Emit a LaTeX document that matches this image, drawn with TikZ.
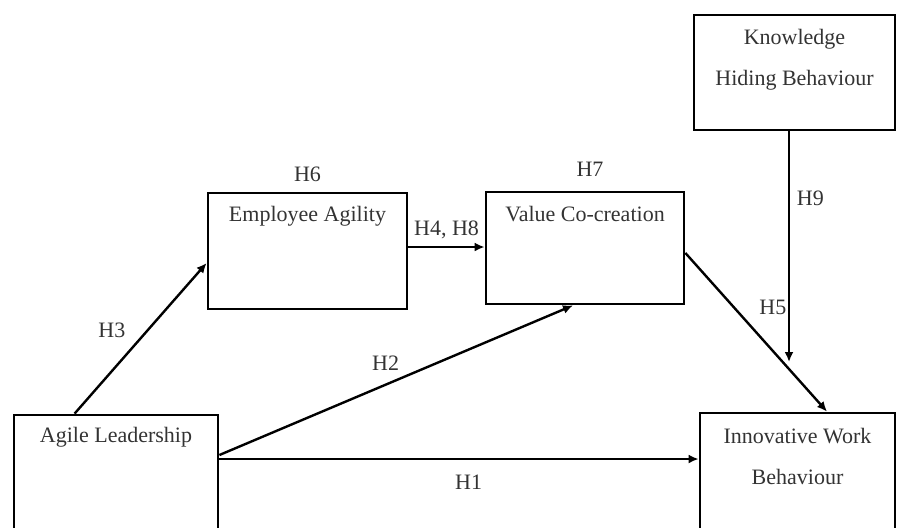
\documentclass[tikz,border=0pt]{standalone}
\usepackage{fontspec}
\setmainfont{Liberation Serif}
\usetikzlibrary{arrows.meta}

\tikzset{
	box/.style={draw, line width=1.4pt, inner sep=0pt},
	txt/.style={text=black!80, font=\fontsize{11}{20.5}\selectfont, align=center},
	lbl/.style={text=black!80, font=\fontsize{11}{13}\selectfont},
	arr/.style={-{Latex[length=5pt,width=4.5pt]}, line width=1.2pt}
}

\begin{document}
\begin{tikzpicture}[x=0.5pt,y=-0.5pt]
		\path[use as bounding box, clip] (0,0) rectangle (897,527);
		% constructs
		\node[box, minimum width=102pt, minimum height=65pt,
			label={[txt, anchor=center, yshift=-12pt]north:Agile Leadership}] (al) at (116,480) {};
		\node[box, minimum width=99.5pt, minimum height=58pt,
			label={[txt, anchor=center, yshift=-12.5pt]north:Employee Agility},
			label={[lbl, label distance=1.5pt]above:H6}] (ea) at (307.5,251) {};
		\node[box, minimum width=99pt, minimum height=56pt,
			label={[txt, anchor=center, yshift=-11.5pt]north:Value Co-creation},
			label={[lbl, label distance=3.5pt, xshift=2.5pt]above:H7}] (vcc) at (585,248) {};
		\node[box, minimum width=97.5pt, minimum height=63.5pt,
			label={[txt, anchor=center, yshift=-22.25pt]north:Innovative Work\\Behaviour}] (iwb) at (797.5,476.5) {};
		\node[box, minimum width=100.5pt, minimum height=57.5pt,
			label={[txt, anchor=center, yshift=-23pt]north:Knowledge\\Hiding Behaviour}] (khb) at (794.5,72.5) {};
		\coordinate (meet) at (789,362);
		% hypotheses
		\draw[arr] ([xshift=31pt]al.north west) -- ([yshift=-6pt]ea.west) node[lbl, pos=0.55, left=7pt] {H3};
		\draw[arr] ([yshift=2pt]ea.east) -- ([yshift=2pt]ea.east -| vcc.west) node[lbl, midway, above=0pt] {H4, H8};
		\draw[arr] ([yshift=12.5pt]al.east) -- ([xshift=-6pt]vcc.south) node[lbl, pos=0.47, above=3pt] {H2};
		\draw[arr] ([yshift=10.5pt]al.east) -- ([yshift=10.5pt]al.east -| iwb.west) node[lbl, pos=0.52, below=4pt] {H1};
		\draw[arr] ([yshift=-2.5pt]vcc.east) -- ([xshift=14.75pt]iwb.north) node[lbl, pos=0.34, right=9pt] {H5};
		\draw[arr] (khb.south -| meet) -- (meet) node[lbl, pos=0.29, anchor=west] {H9};
	\end{tikzpicture}
\end{document}
